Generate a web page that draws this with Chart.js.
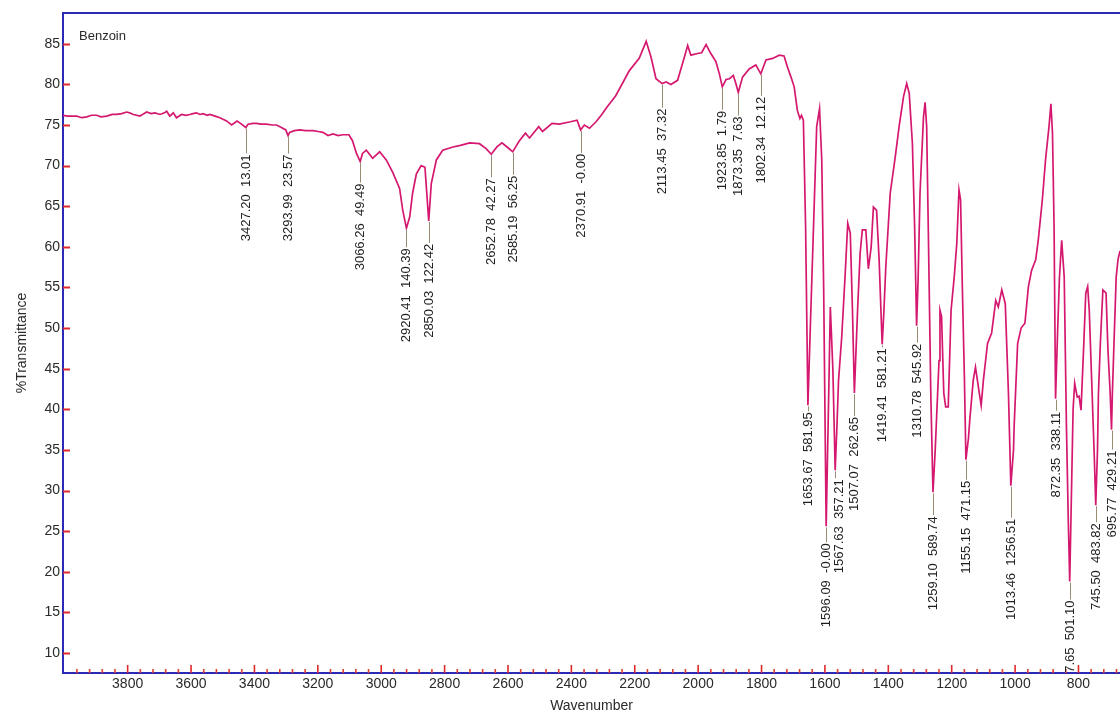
<!DOCTYPE html>
<html>
<head>
<meta charset="utf-8">
<title>Benzoin IR spectrum</title>
<script src="https://cdn.jsdelivr.net/npm/chart.js@4.4.1/dist/chart.umd.min.js"></script>
<style>
  html, body { margin: 0; padding: 0; background: #ffffff; }
  canvas { display: block; }
</style>
</head>
<body>
<canvas id="spectrum" width="1120" height="715"></canvas>
<script>
// ---- Spectrum (wavenumber in cm-1, %T) ----
const wavenumbers = [
  4004, 3989, 3961, 3944, 3929, 3914, 3898, 3884, 3866, 3849, 3835, 3819, 3803, 3794, 3782, 3761,
  3749, 3740, 3726, 3714, 3698, 3684, 3677, 3667, 3656, 3646, 3630, 3616, 3604, 3594, 3583, 3572,
  3562, 3549, 3541, 3524, 3509, 3488, 3472, 3455, 3444, 3427.20, 3420, 3404, 3394, 3379, 3362, 3344,
  3330, 3315, 3301, 3293.99, 3289, 3274, 3257, 3239, 3215, 3199, 3184, 3168, 3152, 3136, 3121, 3102,
  3091, 3078, 3066.26, 3059, 3047, 3027, 3005, 2984, 2964, 2942, 2932, 2920.41, 2910, 2901, 2889, 2874,
  2862, 2850.03, 2842, 2826, 2806, 2774, 2750, 2721, 2690, 2669, 2652.78, 2635, 2619, 2600, 2585.19, 2565,
  2545, 2532, 2503, 2491, 2461, 2438, 2403, 2382, 2370.91, 2359, 2343, 2322, 2304, 2288, 2260, 2217,
  2186, 2164, 2149, 2133, 2113.45, 2101, 2086, 2065, 2049, 2033, 2023, 2002, 1989, 1975, 1960, 1944,
  1933, 1923.85, 1912, 1901, 1889, 1881, 1873.35, 1860, 1839, 1818, 1802.34, 1786, 1765, 1744, 1729, 1718,
  1707, 1697, 1687, 1679, 1674, 1668, 1661, 1653.67, 1646, 1636, 1626, 1617, 1610, 1604, 1596.09, 1588,
  1583, 1575, 1567.63, 1562, 1557, 1547, 1536, 1528, 1520, 1513, 1507.07, 1497, 1489, 1482, 1471, 1463,
  1454, 1447, 1437, 1429, 1419.41, 1414, 1408, 1394, 1378, 1366, 1352, 1342, 1334, 1324, 1317, 1310.78,
  1306, 1300, 1289, 1284, 1279, 1274, 1266, 1259.10, 1252, 1247, 1240, 1237, 1232, 1225, 1219, 1211,
  1202, 1192, 1184, 1177, 1172, 1166, 1160, 1155.15, 1147, 1143, 1132, 1125, 1116, 1107, 1100, 1087,
  1074, 1061, 1053, 1042, 1031, 1021, 1013.46, 1005, 1003, 992, 981, 969, 958, 948, 935, 927,
  914, 904, 893, 887, 882, 877, 872.35, 866, 860, 853, 845, 838, 832, 827.65, 822, 817,
  812, 804, 798, 792, 784, 777, 771, 766, 757, 750, 745.50, 740, 737, 731, 723, 713,
  707, 700, 695.77, 693, 688, 681, 675, 669
];
const transmittance = [
  76.2, 76.1, 76.1, 75.9, 76.0, 76.2, 76.2, 76.0, 76.1, 76.3, 76.3, 76.4, 76.6, 76.5, 76.3, 76.1,
  76.4, 76.6, 76.4, 76.5, 76.3, 76.5, 76.7, 76.1, 76.5, 75.9, 76.3, 76.2, 76.3, 76.4, 76.5, 76.3,
  76.4, 76.2, 76.3, 76.1, 75.9, 75.5, 75.0, 75.5, 75.2, 74.7, 75.1, 75.2, 75.2, 75.1, 75.1, 75.0,
  75.0, 74.7, 74.4, 73.7, 74.1, 74.3, 74.4, 74.3, 74.3, 74.2, 74.1, 73.7, 73.9, 73.7, 73.8, 73.8,
  73.1, 71.5, 70.5, 71.5, 71.9, 70.9, 71.7, 70.7, 69.2, 67.2, 64.5, 62.3, 63.7, 66.6, 69.0, 70.0,
  69.8, 63.2, 67.8, 70.7, 71.9, 72.3, 72.5, 72.8, 72.7, 72.1, 71.4, 72.3, 72.8, 72.2, 71.7, 73.0,
  74.0, 73.4, 74.8, 74.2, 75.2, 75.1, 75.4, 75.6, 74.4, 75.0, 74.6, 75.4, 76.3, 77.2, 78.6, 81.7,
  83.2, 85.3, 83.4, 80.7, 80.1, 80.3, 80.0, 80.5, 82.6, 84.8, 83.6, 83.8, 83.9, 84.9, 83.8, 82.8,
  81.3, 79.7, 80.6, 80.7, 81.1, 80.1, 79.0, 80.9, 81.9, 82.4, 81.3, 83.0, 83.2, 83.6, 83.5, 82.1,
  80.9, 79.7, 76.8, 75.8, 76.2, 75.6, 62.5, 40.5, 50.2, 62.5, 74.8, 77.0, 70.7, 55.0, 25.6, 42.0,
  52.6, 45.0, 32.5, 38.0, 43.6, 48.9, 56.7, 62.9, 61.7, 52.0, 42.0, 52.2, 59.2, 62.1, 62.1, 57.3,
  60.0, 64.9, 64.5, 58.4, 48.0, 52.0, 57.5, 66.6, 71.1, 74.8, 78.5, 80.1, 78.9, 72.7, 62.5, 50.3,
  56.0, 66.6, 76.0, 77.8, 74.8, 62.5, 42.0, 29.8, 35.0, 39.6, 46.0, 52.2, 51.4, 42.0, 40.3, 40.3,
  52.2, 56.3, 60.4, 67.0, 65.8, 54.3, 44.0, 33.8, 36.5, 38.7, 43.6, 45.2, 42.8, 40.5, 43.6, 48.1,
  49.4, 53.4, 52.6, 54.7, 53.0, 42.0, 30.6, 35.0, 37.9, 48.1, 50.0, 50.6, 55.1, 57.1, 58.4, 60.8,
  65.8, 70.7, 74.8, 77.6, 74.0, 62.5, 41.3, 49.4, 56.3, 60.8, 56.3, 37.9, 26.0, 18.8, 30.0, 40.0,
  43.2, 41.5, 41.6, 39.9, 47.3, 54.3, 55.1, 52.2, 42.0, 34.0, 28.2, 35.0, 42.0, 48.1, 54.7, 54.3,
  47.3, 42.0, 37.5, 42.0, 48.1, 56.3, 58.5, 59.5
];

// ---- Peak table (position, integrated value) ----
const peakWavenumbers = [
  3427.20, 3293.99, 3066.26, 2920.41, 2850.03, 2652.78, 2585.19, 2370.91, 2113.45, 1923.85, 1873.35,
  1802.34, 1653.67, 1596.09, 1567.63, 1507.07, 1419.41, 1310.78, 1259.10, 1155.15, 1013.46, 872.35,
  827.65, 745.50, 695.77
];
const peakAreas = [
  13.01, 23.57, 49.49, 140.39, 122.42, 42.27, 56.25, -0.00, 37.32, 1.79, 7.63,
  12.12, 581.95, -0.00, 357.21, 262.65, 581.21, 545.92, 589.74, 471.15, 1256.51, 338.11,
  501.10, 483.82, 429.21
];

// ---- Axis ticks ----
const xTickLabels = [3800, 3600, 3400, 3200, 3000, 2800, 2600, 2400, 2200, 2000, 1800, 1600, 1400, 1200, 1000, 800];
const yTickLabels = [10, 15, 20, 25, 30, 35, 40, 45, 50, 55, 60, 65, 70, 75, 80, 85];
const sampleName = 'Benzoin';

// ---- Label layout: leader length (px) and sideways nudge (px) per peak ----
const leaderLength = [26, 18, 21, 19, 22, 23, 23, 23, 24, 23, 23, 22, 6, 16, 8, 23, 3, 17, 23, 20, 32, 12, 18, 17, 20];
const labelNudge   = [0, 0, 0, 0, 0, 0, 0, 0, 0, 0, 0, 0, 0, 0, 4, 0, 0, 0, 0, 0, 0, 0, 0, 0, 0];

const FONT = '"Liberation Sans", Arial, Helvetica, sans-serif';
const AXIS_BLUE = '#2a2ab4';
const TICK_RED = '#e2282a';

const points = wavenumbers.map((w, i) => ({ x: w, y: transmittance[i] }));

function fmtNum(v) {
  return (Object.is(v, -0) || v < 0 ? '-' : '') + Math.abs(v).toFixed(2);
}

// Frame top edge, inward tick marks, peak annotations and sample name
const spectrumDecor = {
  id: 'spectrumDecor',
  afterDatasetsDraw(chart) {
    const { ctx, chartArea: a, scales: { x, y } } = chart;
    ctx.save();

    // top frame line
    ctx.strokeStyle = AXIS_BLUE;
    ctx.lineWidth = 2;
    ctx.beginPath();
    ctx.moveTo(a.left - 1, a.top);
    ctx.lineTo(a.right, a.top);
    ctx.stroke();

    // y ticks pointing into the plot
    ctx.strokeStyle = TICK_RED;
    ctx.lineWidth = 2;
    yTickLabels.forEach(v => {
      const py = Math.round(y.getPixelForValue(v)) + 0.5;
      ctx.beginPath();
      ctx.moveTo(a.left, py);
      ctx.lineTo(a.left + 7, py);
      ctx.stroke();
    });

    // x ticks: minor every 40, major every 200
    ctx.lineWidth = 1.6;
    for (let v = 680; v <= 4000; v += 40) {
      const px = x.getPixelForValue(v);
      if (px < a.left + 2 || px > a.right) continue;
      const major = v % 200 === 0;
      ctx.strokeStyle = major ? TICK_RED : '#e5402c';
      ctx.beginPath();
      ctx.moveTo(px, a.bottom);
      ctx.lineTo(px, a.bottom - (major ? 8 : 4));
      ctx.stroke();
    }

    // peak leaders and labels, clipped to the plot frame
    ctx.beginPath();
    ctx.rect(a.left, a.top, a.right - a.left, a.bottom - a.top);
    ctx.clip();
    ctx.font = '13px ' + FONT;
    ctx.textAlign = 'right';
    ctx.textBaseline = 'middle';
    peakWavenumbers.forEach((w, i) => {
      const idx = wavenumbers.indexOf(w);
      const t = transmittance[idx];
      const px = Math.round(x.getPixelForValue(w)) + 0.5;
      const py = y.getPixelForValue(t);
      const end = py + leaderLength[i];
      ctx.strokeStyle = '#9a8c74';
      ctx.lineWidth = 1;
      ctx.beginPath();
      ctx.moveTo(px, py + 1);
      ctx.lineTo(px, end);
      ctx.stroke();
      ctx.save();
      ctx.translate(px + labelNudge[i], end + 1);
      ctx.rotate(-Math.PI / 2);
      ctx.fillStyle = '#1e1e1e';
      ctx.fillText(fmtNum(w) + '  ' + fmtNum(peakAreas[i]), 0, 0);
      ctx.restore();
    });

    // sample name
    ctx.font = '13px ' + FONT;
    ctx.textAlign = 'left';
    ctx.textBaseline = 'alphabetic';
    ctx.fillStyle = '#2a2a2a';
    ctx.fillText(sampleName, a.left + 16, a.top + 27);

    ctx.restore();
  }
};

new Chart(document.getElementById('spectrum'), {
  type: 'line',
  data: {
    datasets: [{
      label: sampleName,
      data: points,
      borderColor: '#d5186f',
      borderWidth: 1.7,
      pointRadius: 0,
      tension: 0,
      fill: false
    }]
  },
  options: {
    responsive: false,
    animation: false,
    devicePixelRatio: 1,
    layout: { padding: { top: 13, left: 0, right: 0, bottom: 0 } },
    plugins: { legend: { display: false }, tooltip: { enabled: false } },
    scales: {
      x: {
        type: 'linear',
        reverse: true,
        min: 669,
        max: 4004,
        afterBuildTicks: s => { s.ticks = xTickLabels.map(v => ({ value: v })); },
        afterFit: s => { s.height = 42; },
        grid: { display: false, drawTicks: false },
        border: { display: true, color: AXIS_BLUE, width: 2 },
        ticks: { color: '#2a2a2a', font: { family: FONT, size: 14 }, padding: 3, maxRotation: 0, autoSkip: false, callback: v => String(v) },
        title: { display: true, text: 'Wavenumber', color: '#2a2a2a', font: { family: FONT, size: 14 }, padding: { top: 0, bottom: 0 } }
      },
      y: {
        min: 7.54,
        max: 88.79,
        afterBuildTicks: s => { s.ticks = yTickLabels.map(v => ({ value: v })); },
        afterFit: s => { s.width = 63; },
        grid: { display: false, drawTicks: false },
        border: { display: true, color: AXIS_BLUE, width: 2 },
        ticks: { color: '#2a2a2a', font: { family: FONT, size: 14 }, padding: 3, autoSkip: false, callback: v => String(v) },
        title: { display: true, text: '%Transmittance', color: '#2a2a2a', font: { family: FONT, size: 14 }, padding: { top: 14, bottom: 0 } }
      }
    }
  },
  plugins: [spectrumDecor]
});
</script>
</body>
</html>
